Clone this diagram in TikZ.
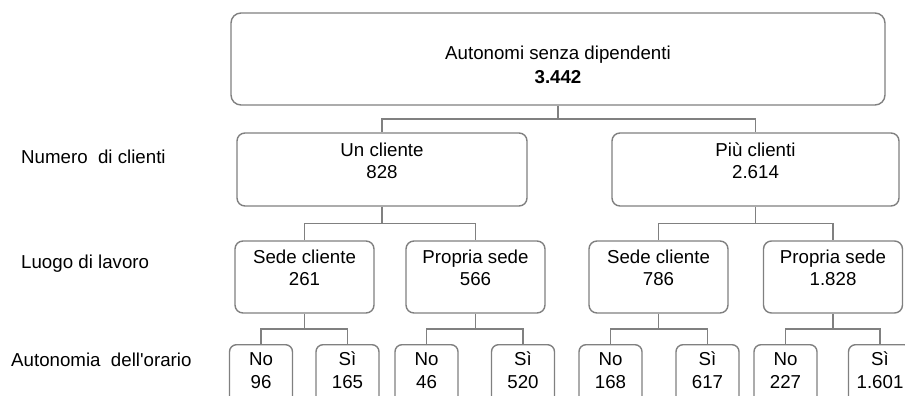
\documentclass[tikz,border=0pt]{standalone}
\usepackage{fontspec}
\setmainfont{Liberation Sans}[Ligatures=TeXOff]
\usetikzlibrary{calc}
\definecolor{edgegray}{RGB}{128,128,128}
\begin{document}
\begin{tikzpicture}[x=1pt,y=-1pt,
  boxstyle/.style={draw=edgegray, line width=1.4pt, rounded corners=#1, inner sep=0pt, fill=white},
  boxstyle/.default=8pt,
  txt/.style={anchor=base, align=center, inner sep=0pt, font=\fontsize{18.7}{23}\selectfont},
  lbl/.style={anchor=base west, inner sep=0pt, font=\fontsize{18.7}{23}\selectfont},
  conn/.style={draw=edgegray, line width=1.4pt}]
\useasboundingbox (0,0) rectangle (905,396);
\clip (0,0) rectangle (905,396);
% row labels
\node[lbl] (l1) at (21,163) {Numero\ \ di clienti};
\node[lbl] (l2) at (21,268) {Luogo di lavoro};
\node[lbl] (l3) at (11,366) {Autonomia\ \ dell'orario};
% top
\node[boxstyle=10pt, minimum width=654pt, minimum height=92pt] (top) at (558,59) {};
\node[txt] (topt) at (558,59.3) {Autonomi senza dipendenti};
\node[txt] (topn) at (558,83.3) {\bfseries 3.442};
% level 2
\node[boxstyle, minimum width=290pt, minimum height=73pt] (uc) at (382,169.5) {};
\node[txt] (uct) at (382,156) {Un cliente};
\node[txt] (ucn) at (382,178) {828};
\node[boxstyle, minimum width=287pt, minimum height=73pt] (pc) at (755.5,169.5) {};
\node[txt] (pct) at (755.5,156) {Più clienti};
\node[txt] (pcn) at (755.5,178) {2.614};
% level 3
\node[boxstyle, minimum width=139pt, minimum height=72pt] (s1) at (304.5,277) {};
\node[txt] (s1t) at (304.5,263) {Sede cliente};
\node[txt] (s1n) at (304.5,285.5) {261};
\node[boxstyle, minimum width=139pt, minimum height=72pt] (p1) at (475.5,277) {};
\node[txt] (p1t) at (475.5,263) {Propria sede};
\node[txt] (p1n) at (475.5,285.5) {566};
\node[boxstyle, minimum width=139pt, minimum height=72pt] (s2) at (658.5,277) {};
\node[txt] (s2t) at (658.5,263) {Sede cliente};
\node[txt] (s2n) at (658.5,285.5) {786};
\node[boxstyle, minimum width=139pt, minimum height=72pt] (p2) at (833,277) {};
\node[txt] (p2t) at (833,263) {Propria sede};
\node[txt] (p2n) at (833,285.5) {1.828};
% leaves (extend below the frame and are clipped)
\foreach \nm/\cx/\a/\b in {a1/261/No/96, a2/347.5/Sì/165, b1/426.5/No/46, b2/523/Sì/520,
    c1/610.5/No/168, c2/707.5/Sì/617, d1/785.5/No/227, d2/880/Sì/1.601}{
  \node[boxstyle=7pt, minimum width=63pt, minimum height=72pt, anchor=north] (\nm) at (\cx,344) {};
  \node[txt] (\nm t) at (\cx,365) {\a};
  \node[txt] (\nm n) at (\cx,388) {\b};
}
% connectors
\coordinate (j0) at ($(top.south)!0.5!(top.south|-uc.north)$);
\draw[conn] (top.south) -- (j0);
\draw[conn] (uc.north) |- (j0) -| (pc.north);
\foreach \p/\x/\y in {uc/s1/p1, pc/s2/p2, s1/a1/a2, p1/b1/b2, s2/c1/c2, p2/d1/d2}{
  \coordinate (j\p) at ($(\p.south)!0.5!(\p.south|-\x.north)$);
  \draw[conn] (\p.south) -- (j\p);
  \draw[conn] (\x.north) |- (j\p) -| (\y.north);
}
\end{tikzpicture}
\end{document}
